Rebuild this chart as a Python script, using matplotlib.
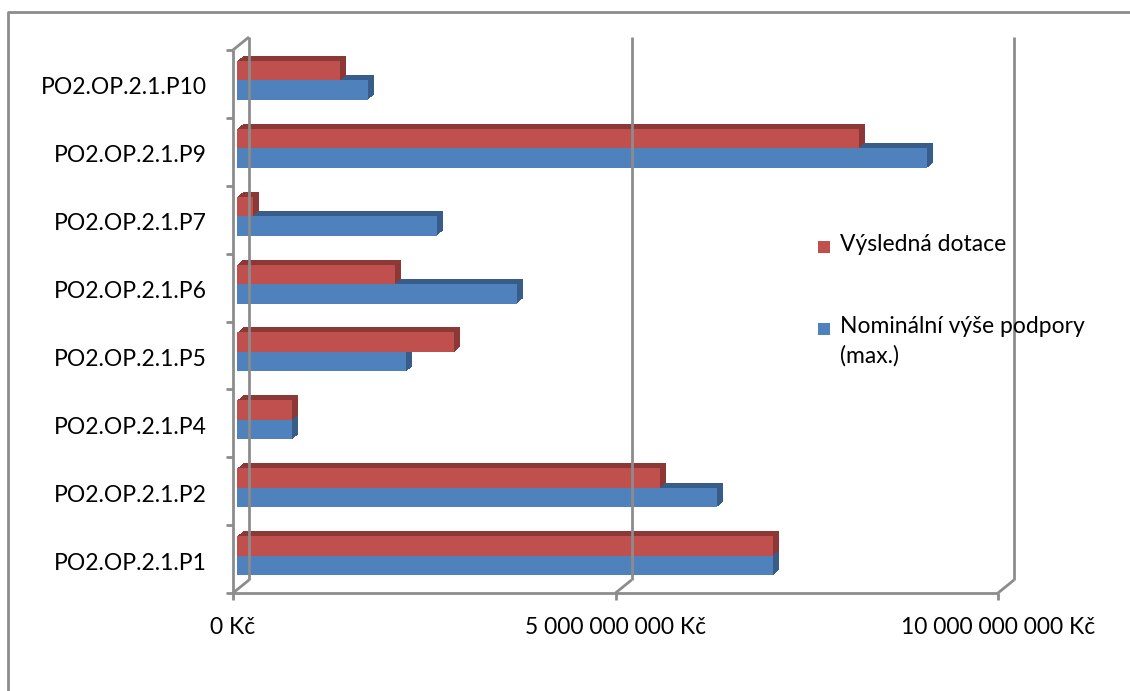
import matplotlib
matplotlib.use("Agg")
import matplotlib.pyplot as plt
from matplotlib.lines import Line2D
from matplotlib.patches import Rectangle
from matplotlib.transforms import ScaledTranslation

categories = ['PO2.OP.2.1.P1', 'PO2.OP.2.1.P2', 'PO2.OP.2.1.P4', 'PO2.OP.2.1.P5',
              'PO2.OP.2.1.P6', 'PO2.OP.2.1.P7', 'PO2.OP.2.1.P9', 'PO2.OP.2.1.P10']
vysledna = [7.01e9, 5.53e9, 0.72e9, 2.84e9, 2.06e9, 0.21e9, 8.13e9, 1.35e9]
nominalni = [7.01e9, 6.27e9, 0.72e9, 2.21e9, 3.66e9, 2.61e9, 9.02e9, 1.71e9]
xticks = [0, 5e9, 10e9]
xticklabels = ['0 Kč', '5 000 000 000 Kč', '10 000 000 000 Kč']
series_names = ['Výsledná dotace', 'Nominální výše podpory\n(max.)']

RED, RED_D = '#C0504D', '#8C3836'
BLUE, BLUE_D = '#4F81BD', '#385D8A'
GRID = '#8C8C8C'
FONT = 'Lato'
FS = 16.5

W, H, DPI = 1130, 691, 100
fig = plt.figure(figsize=(W / DPI, H / DPI), dpi=DPI)
# front plane of the plot: x 233..998 px, y 50..593 px (image coords)
ax = fig.add_axes([233 / W, 1 - 593 / H, (998 - 233) / W, (593 - 50) / H])
ax.set_xlim(0, 10e9)
ax.set_ylim(-0.5, len(categories) - 0.5)
ax.axis('off')

def px(x, y):
    """data -> display pixels"""
    return ax.transData.transform((x, y))

def line(p, q, **kw):
    fig.add_artist(Line2D([p[0], q[0]], [p[1], q[1]], transform=None,
                          color=GRID, lw=2, solid_capstyle='butt', **kw))

BDX, BDY = 16, 13  # back wall offset (px)
y0, y1 = -0.5, len(categories) - 0.5
# back wall verticals + floor diagonals
for xv in xticks:
    fb = px(xv, y0)
    line((fb[0] + BDX, fb[1] + BDY), (fb[0] + BDX, px(xv, y1)[1] + BDY), zorder=1)
    line(fb, (fb[0] + BDX, fb[1] + BDY), zorder=1)
# top-left diagonal
ft = px(0, y1)
line(ft, (ft[0] + BDX, ft[1] + BDY), zorder=1)
# front axes
line(px(0, y0), px(0, y1), zorder=1)
line(px(0, y0), px(10e9, y0), zorder=1)
for k in range(len(categories) + 1):
    p = px(0, y0 + k)
    line((p[0] - 7, p[1]), p, zorder=1)
for xv in xticks:
    p = px(xv, y0)
    line(p, (p[0], p[1] - 7), zorder=1)

# bars (pseudo 3D)
bh = 0.287
FX, FY = 4, 3.5   # face offset (px)
DX, DY = 6, 5     # extrusion depth (px)

def off(dx, dy):
    return ax.transData + ScaledTranslation(dx / DPI, dy / DPI, fig.dpi_scale_trans)

for i in range(len(categories)):
    for vals, base, dark in ((nominalni, i - bh, BLUE_D), (vysledna, i, RED_D)):
        for k in range(DX * 2, 0, -1):
            t = k / (DX * 2)
            ax.add_patch(Rectangle((0, base), vals[i], bh, facecolor=dark, edgecolor='none',
                                   transform=off(FX + DX * t, FY + DY * t), zorder=2, clip_on=False))
    for vals, base, col in ((nominalni, i - bh, BLUE), (vysledna, i, RED)):
        ax.add_patch(Rectangle((0, base), vals[i], bh, facecolor=col, edgecolor='none',
                               transform=off(FX, FY), zorder=3, clip_on=False))

# category labels
for i, c in enumerate(categories):
    p = px(0, i)
    fig.text((p[0] - 26) / W, (p[1] - 4) / H, c, ha='right', va='center',
             fontsize=FS, family=FONT, color='black')
for xv, lab in zip(xticks, xticklabels):
    p = px(xv, y0)
    fig.text(p[0] / W, 1 - 628 / H, lab, ha='center', va='center',
             fontsize=FS, family=FONT, color='black')

# legend
for (yc, col, name) in ((247, RED, series_names[0]), (329, BLUE, series_names[1])):
    fig.add_artist(Rectangle((818 / W, 1 - (yc + 6) / H), 12 / W, 12 / H,
                             transform=fig.transFigure, facecolor=col, edgecolor='none'))
    fig.text(840 / W, 1 - (yc - 13) / H, name, ha='left', va='top', fontsize=FS,
             family=FONT, color='black', linespacing=1.45)

# outer border
fig.add_artist(Line2D([8 / W, 8 / W, 1.0], [0, 1 - 12 / H, 1 - 12 / H],
                      transform=fig.transFigure, color='#8C8C8C', lw=2))

fig.savefig('out.png', dpi=DPI, facecolor='white')
